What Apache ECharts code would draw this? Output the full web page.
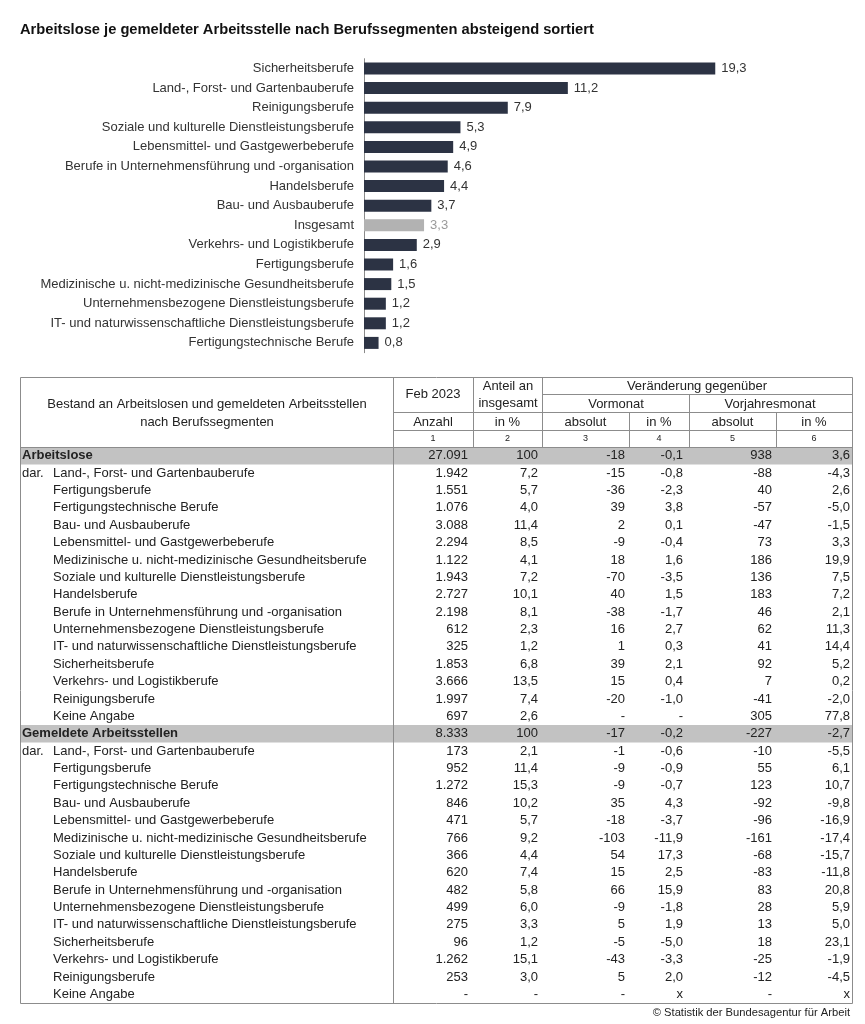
<!DOCTYPE html>
<html>
<head>
<meta charset="utf-8">
<script src="https://cdn.jsdelivr.net/npm/echarts@6/dist/echarts.min.js"></script>
<style>html,body{margin:0;padding:0;background:#fff}#c{width:865px;height:1024px}</style>
</head>
<body>
<div id="c"></div>
<script>
// ---------- chart data ----------
const chartTitle = 'Arbeitslose je gemeldeter Arbeitsstelle nach Berufssegmenten absteigend sortiert';
const chartCats = ['Sicherheitsberufe','Land-, Forst- und Gartenbauberufe','Reinigungsberufe','Soziale und kulturelle Dienstleistungsberufe','Lebensmittel- und Gastgewerbeberufe','Berufe in Unternehmensführung und -organisation','Handelsberufe','Bau- und Ausbauberufe','Insgesamt','Verkehrs- und Logistikberufe','Fertigungsberufe','Medizinische u. nicht-medizinische Gesundheitsberufe','Unternehmensbezogene Dienstleistungsberufe','IT- und naturwissenschaftliche Dienstleistungsberufe','Fertigungstechnische Berufe'];
const chartValues = [19.3,11.2,7.9,5.3,4.9,4.6,4.4,3.7,3.3,2.9,1.6,1.5,1.2,1.2,0.8];
const totalCat = 'Insgesamt';

// ---------- table data ----------
const segments = ['Land-, Forst- und Gartenbauberufe','Fertigungsberufe','Fertigungstechnische Berufe','Bau- und Ausbauberufe','Lebensmittel- und Gastgewerbeberufe','Medizinische u. nicht-medizinische Gesundheitsberufe','Soziale und kulturelle Dienstleistungsberufe','Handelsberufe','Berufe in Unternehmensführung und -organisation','Unternehmensbezogene Dienstleistungsberufe','IT- und naturwissenschaftliche Dienstleistungsberufe','Sicherheitsberufe','Verkehrs- und Logistikberufe','Reinigungsberufe','Keine Angabe'];
const sections = ['Arbeitslose','Gemeldete Arbeitsstellen'];

// Arbeitslose: first entry = total, then segments
const alAnzahl = ['27.091','1.942','1.551','1.076','3.088','2.294','1.122','1.943','2.727','2.198','612','325','1.853','3.666','1.997','697'];
const alAnteil = ['100','7,2','5,7','4,0','11,4','8,5','4,1','7,2','10,1','8,1','2,3','1,2','6,8','13,5','7,4','2,6'];
const alVmAbs  = ['-18','-15','-36','39','2','-9','18','-70','40','-38','16','1','39','15','-20','-'];
const alVmPct  = ['-0,1','-0,8','-2,3','3,8','0,1','-0,4','1,6','-3,5','1,5','-1,7','2,7','0,3','2,1','0,4','-1,0','-'];
const alVjAbs  = ['938','-88','40','-57','-47','73','186','136','183','46','62','41','92','7','-41','305'];
const alVjPct  = ['3,6','-4,3','2,6','-5,0','-1,5','3,3','19,9','7,5','7,2','2,1','11,3','14,4','5,2','0,2','-2,0','77,8'];

// Gemeldete Arbeitsstellen
const gsAnzahl = ['8.333','173','952','1.272','846','471','766','366','620','482','499','275','96','1.262','253','-'];
const gsAnteil = ['100','2,1','11,4','15,3','10,2','5,7','9,2','4,4','7,4','5,8','6,0','3,3','1,2','15,1','3,0','-'];
const gsVmAbs  = ['-17','-1','-9','-9','35','-18','-103','54','15','66','-9','5','-5','-43','5','-'];
const gsVmPct  = ['-0,2','-0,6','-0,9','-0,7','4,3','-3,7','-11,9','17,3','2,5','15,9','-1,8','1,9','-5,0','-3,3','2,0','x'];
const gsVjAbs  = ['-227','-10','55','123','-92','-96','-161','-68','-83','83','28','13','18','-25','-12','-'];
const gsVjPct  = ['-2,7','-5,5','6,1','10,7','-9,8','-16,9','-17,4','-15,7','-11,8','20,8','5,9','5,0','23,1','-1,9','-4,5','x'];

const headTitle = ['Bestand an Arbeitslosen und gemeldeten Arbeitsstellen','nach Berufssegmenten'];
const footer = '© Statistik der Bundesagentur für Arbeit';

// ---------- build table rows ----------
const rows = [];
[[alAnzahl,alAnteil,alVmAbs,alVmPct,alVjAbs,alVjPct],[gsAnzahl,gsAnteil,gsVmAbs,gsVmPct,gsVjAbs,gsVjPct]].forEach((cols, s) => {
  for (let i = 0; i < 16; i++) {
    rows.push({
      label: i === 0 ? sections[s] : segments[i - 1],
      section: i === 0,
      dar: i === 1,
      vals: cols.map(c => c[i])
    });
  }
});

// ---------- layout ----------
const FONT = "'Liberation Sans', Arial, sans-serif";
const FS = 13;
const TXT = '#222';
const LINE = '#8c8c8c';
const TL = 20, TR = 852, TTOP = 377, TBOT = 1003;
const colEdges = [393, 473, 542, 629, 689, 776, 852]; // absolute px
const colRel = colEdges.map(x => x - TL);
const bodyTop = 447, bodyH = TBOT - bodyTop;

const chart = echarts.init(document.getElementById('c'), null, {renderer: 'canvas'});

function renderRow(params, api) {
  const idx = api.value(0);
  const row = rows[idx];
  const p0 = api.coord([0, idx]);
  const p1 = api.coord([TR - TL, idx]);
  const h = api.size([0, 1])[1];
  const cy = p0[1];
  const children = [];
  if (row.section) {
    children.push({type: 'rect', shape: {x: p0[0], y: cy - h / 2, width: p1[0] - p0[0], height: h}, style: {fill: '#c2c2c2'}, z2: 0});
    children.push({type: 'text', style: {x: api.coord([2, idx])[0], y: cy, text: row.label, font: 'bold ' + FS + 'px ' + FONT, fill: TXT, verticalAlign: 'middle', align: 'left'}, z2: 2});
  } else {
    if (row.dar) children.push({type: 'text', style: {x: api.coord([2, idx])[0], y: cy, text: 'dar.', font: FS + 'px ' + FONT, fill: TXT, verticalAlign: 'middle'}, z2: 2});
    children.push({type: 'text', style: {x: api.coord([33, idx])[0], y: cy, text: row.label, font: FS + 'px ' + FONT, fill: TXT, verticalAlign: 'middle'}, z2: 2});
  }
  const pad = [5, 4, 4, 6, 4, 2];
  row.vals.forEach((v, i) => {
    const x = api.coord([colRel[i + 1] - pad[i], idx])[0];
    children.push({type: 'text', style: {x: x, y: cy, text: v, font: FS + 'px ' + FONT, fill: TXT, verticalAlign: 'middle', align: 'right'}, z2: 2});
  });
  return {type: 'group', children: children};
}

// header graphics
const g = [];
function line(x1, y1, x2, y2) { g.push({type: 'line', shape: {x1, y1, x2, y2}, style: {stroke: LINE, lineWidth: 1}, z: 20, silent: true}); }
function txt(x, y, t, size, align) { g.push({type: 'text', x: x, y: y, style: {text: t, font: (size || FS) + 'px ' + FONT, fill: TXT, align: align || 'center', verticalAlign: 'middle'}, z: 20}); }
g.push({type: 'rect', shape: {x: TL + 0.5, y: TTOP + 0.5, width: TR - TL, height: TBOT - TTOP}, style: {fill: 'none', stroke: LINE, lineWidth: 1}, z: 20, silent: true});
line(393.5, TTOP, 393.5, TBOT);
line(473.5, TTOP, 473.5, bodyTop);
line(542.5, TTOP, 542.5, bodyTop);
line(629.5, 412, 629.5, bodyTop);
line(776.5, 412, 776.5, bodyTop);
line(689.5, 394, 689.5, bodyTop);
line(542, 394.5, TR, 394.5);
line(393, 412.5, TR, 412.5);
line(393, 430.5, TR, 430.5);
line(TL, bodyTop + 0.5, TR, bodyTop + 0.5);
txt(207, 404, headTitle[0]);
txt(207, 422, headTitle[1]);
txt(433, 394, 'Feb 2023');
txt(508, 386, 'Anteil an');
txt(508, 403, 'insgesamt');
txt(697, 386, 'Veränderung gegenüber');
txt(616, 404, 'Vormonat');
txt(770, 404, 'Vorjahresmonat');
const sub = ['Anzahl', 'in %', 'absolut', 'in %', 'absolut', 'in %'];
sub.forEach((s, i) => {
  const cx = (colEdges[i] + colEdges[i + 1]) / 2;
  txt(cx, 422, s);
  txt(cx, 439, String(i + 1), 9);
});
txt(850, 1013, footer, 11.2, 'right');

chart.setOption({
  animation: false,
  title: {text: chartTitle, left: 20, top: 22, padding: 0, textStyle: {fontFamily: FONT, fontSize: 14.7, fontWeight: 'bold', color: '#111'}},
  grid: [
    {left: 364, top: 58.7, width: 364, height: 294, containLabel: false},
    {left: TL, top: bodyTop, width: TR - TL, height: bodyH, containLabel: false}
  ],
  xAxis: [
    {gridIndex: 0, type: 'value', min: 0, max: 20, show: false},
    {gridIndex: 1, type: 'value', min: 0, max: TR - TL, show: false}
  ],
  yAxis: [
    {gridIndex: 0, type: 'category', data: chartCats, inverse: true,
     axisLine: {lineStyle: {color: '#8a8a8a'}}, axisTick: {show: false},
     axisLabel: {margin: 10, fontFamily: FONT, fontSize: FS, color: '#333'}},
    {gridIndex: 1, type: 'category', data: rows.map((r, i) => i), inverse: true, show: false}
  ],
  series: [
    {type: 'bar', xAxisIndex: 0, yAxisIndex: 0, barWidth: 12,
     data: chartValues.map((v, i) => ({value: v,
       itemStyle: {color: chartCats[i] === totalCat ? '#b2b2b2' : '#2c3344'},
       label: {color: chartCats[i] === totalCat ? '#9a9a9a' : '#333'}})),
     label: {show: true, position: 'right', distance: 6, fontFamily: FONT, fontSize: FS,
       formatter: p => String(p.value).replace('.', ',')}},
    {type: 'custom', xAxisIndex: 1, yAxisIndex: 1, renderItem: renderRow,
     data: rows.map((r, i) => [i]), encode: {y: 0}, silent: true, z: 2}
  ],
  graphic: g
});
</script>
</body>
</html>
